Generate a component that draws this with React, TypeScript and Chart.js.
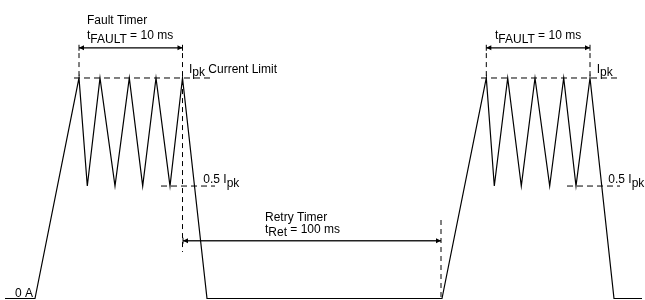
import React, { useEffect, useRef } from "react";
import { Chart, registerables } from "chart.js";

Chart.register(...registerables);

// Current levels (fraction of Ipk)
const HALF = 0.51; // "0.5 Ipk" level as drawn
const waveTime = [5, 35, 79, 87.3, 100, 115, 129.3, 142.7, 156, 170, 182.5, 207, 442, 486.3, 494.3, 507.7, 521.3, 535, 549.7, 563.7, 576, 590, 614, 642];
const waveCurrent = [0, 0, 1, HALF, 1, HALF, 1, HALF, 1, HALF, 1, 0, 0, 1, HALF, 1, HALF, 1, HALF, 1, HALF, 1, 0, 0];

// Horizontal guide lines
const ipkLeftX = [74, 212];
const ipkRightX = [481, 618];
const halfLeftX = [161, 215];
const halfRightX = [567, 620];

// Vertical marker lines
const markerX = [79, 182.5, 441, 486.3, 590];
const markerTop = [1.113, 1.113, 0.356, 1.113, 1.113];
const markerBottom = [1, 0.211, 0, 1, 1];

// Timer arrows
const faultLevel = 1.137;
const faultLeftX = [79, 182.5];
const faultRightX = [486.3, 590];
const retryLevel = 0.262;
const retryX = [183, 441];

// Text annotations: [x, y, parts] where part = [text, isSubscript]
type Part = [string, boolean];
const labelX = [87, 87, 189, 203.3, 15, 265, 265, 495, 596.7, 608.3];
const labelY = [1.245, 1.175, 1.023, 0.522, 0.005, 0.353, 0.298, 1.175, 1.023, 0.522];
const labelParts: Part[][] = [
  [["Fault Timer", false]],
  [["t", false], ["FAULT", true], [" = 10 ms", false]],
  [["I", false], ["pk", true], [" Current Limit", false]],
  [["0.5 I", false], ["pk", true]],
  [["0 A", false]],
  [["Retry Timer", false]],
  [["t", false], ["Ret", true], [" = 100 ms", false]],
  [["t", false], ["FAULT", true], [" = 10 ms", false]],
  [["I", false], ["pk", true]],
  [["0.5 I", false], ["pk", true]],
];

const FONT = '12px "Liberation Sans", Arial, sans-serif';

const annotPlugin = {
  id: "annot",
  afterDatasetsDraw(chart: any) {
    const ctx = chart.ctx;
    const xs = chart.scales.x;
    const ys = chart.scales.y;
    ctx.save();
    ctx.fillStyle = "#000";
    ctx.strokeStyle = "#000";
    ctx.lineWidth = 1;
    const head = (x: number, y: number, dir: number, tick: boolean) => {
      const px = xs.getPixelForValue(x);
      const py = ys.getPixelForValue(y);
      ctx.beginPath();
      ctx.moveTo(px, py);
      ctx.lineTo(px - dir * 5, py - 2.5);
      ctx.lineTo(px - dir * 5, py + 2.5);
      ctx.closePath();
      ctx.fill();
      if (tick) {
        ctx.beginPath();
        ctx.moveTo(px, py - 3);
        ctx.lineTo(px, py + 3);
        ctx.stroke();
      }
    };
    head(faultLeftX[0], faultLevel, -1, true);
    head(faultLeftX[1], faultLevel, 1, true);
    head(faultRightX[0], faultLevel, -1, true);
    head(faultRightX[1], faultLevel, 1, true);
    head(retryX[0], retryLevel, -1, true);
    head(retryX[1], retryLevel, 1, false);

    ctx.font = FONT;
    ctx.textBaseline = "alphabetic";
    ctx.textAlign = "left";
    labelParts.forEach((parts, i) => {
      let px = xs.getPixelForValue(labelX[i]);
      const py = ys.getPixelForValue(labelY[i]);
      parts.forEach(([t, sub]) => {
        ctx.fillText(t, px, py + (sub ? 3.3 : 0));
        px += ctx.measureText(t).width;
      });
    });
    ctx.restore();
  },
};

function line(xs: number[], ys: number[], extra: any = {}) {
  return {
    data: xs.map((x, i) => ({ x, y: ys[i] })),
    showLine: true,
    borderColor: "#000",
    borderWidth: 1,
    pointRadius: 0,
    pointHoverRadius: 0,
    fill: false,
    clip: false as any,
    ...extra,
  };
}

export default function App() {
  const ref = useRef<HTMLCanvasElement | null>(null);
  useEffect(() => {
    if (!ref.current) return;
    const dashH = { borderDash: [6, 4] };
    const dashV = { borderDash: [5, 4] };
    const datasets: any[] = [
      line(waveTime, waveCurrent, { borderWidth: 1.2 }),
      line(ipkLeftX, [1, 1], dashH),
      line(ipkRightX, [1, 1], dashH),
      line(halfLeftX, [HALF, HALF], dashH),
      line(halfRightX, [HALF, HALF], dashH),
      ...markerX.map((x, i) => line([x, x], [markerTop[i], markerBottom[i]], dashV)),
      line(faultLeftX, [faultLevel, faultLevel], { borderWidth: 1.3 }),
      line(faultRightX, [faultLevel, faultLevel], { borderWidth: 1.3 }),
      line(retryX, [retryLevel, retryLevel], { borderWidth: 1.5, borderColor: "#222" }),
    ];
    const chart = new Chart(ref.current, {
      type: "scatter",
      data: { datasets },
      options: {
        animation: false,
        responsive: false,
        devicePixelRatio: 1,
        layout: { padding: 0 },
        plugins: { legend: { display: false }, tooltip: { enabled: false }, title: { display: false } },
        events: [],
        scales: {
          x: { type: "linear", display: false, min: 0, max: 645 },
          y: { type: "linear", display: false, min: -0.0068, max: 1.3537 },
        },
      },
      plugins: [annotPlugin],
    } as any);
    return () => chart.destroy();
  }, []);
  return (
    <div style={{ position: "absolute", left: 0, top: 0, width: 645, height: 300, background: "#fff" }}>
      <canvas ref={ref} width={645} height={300} style={{ display: "block", width: 645, height: 300 }} />
    </div>
  );
}
